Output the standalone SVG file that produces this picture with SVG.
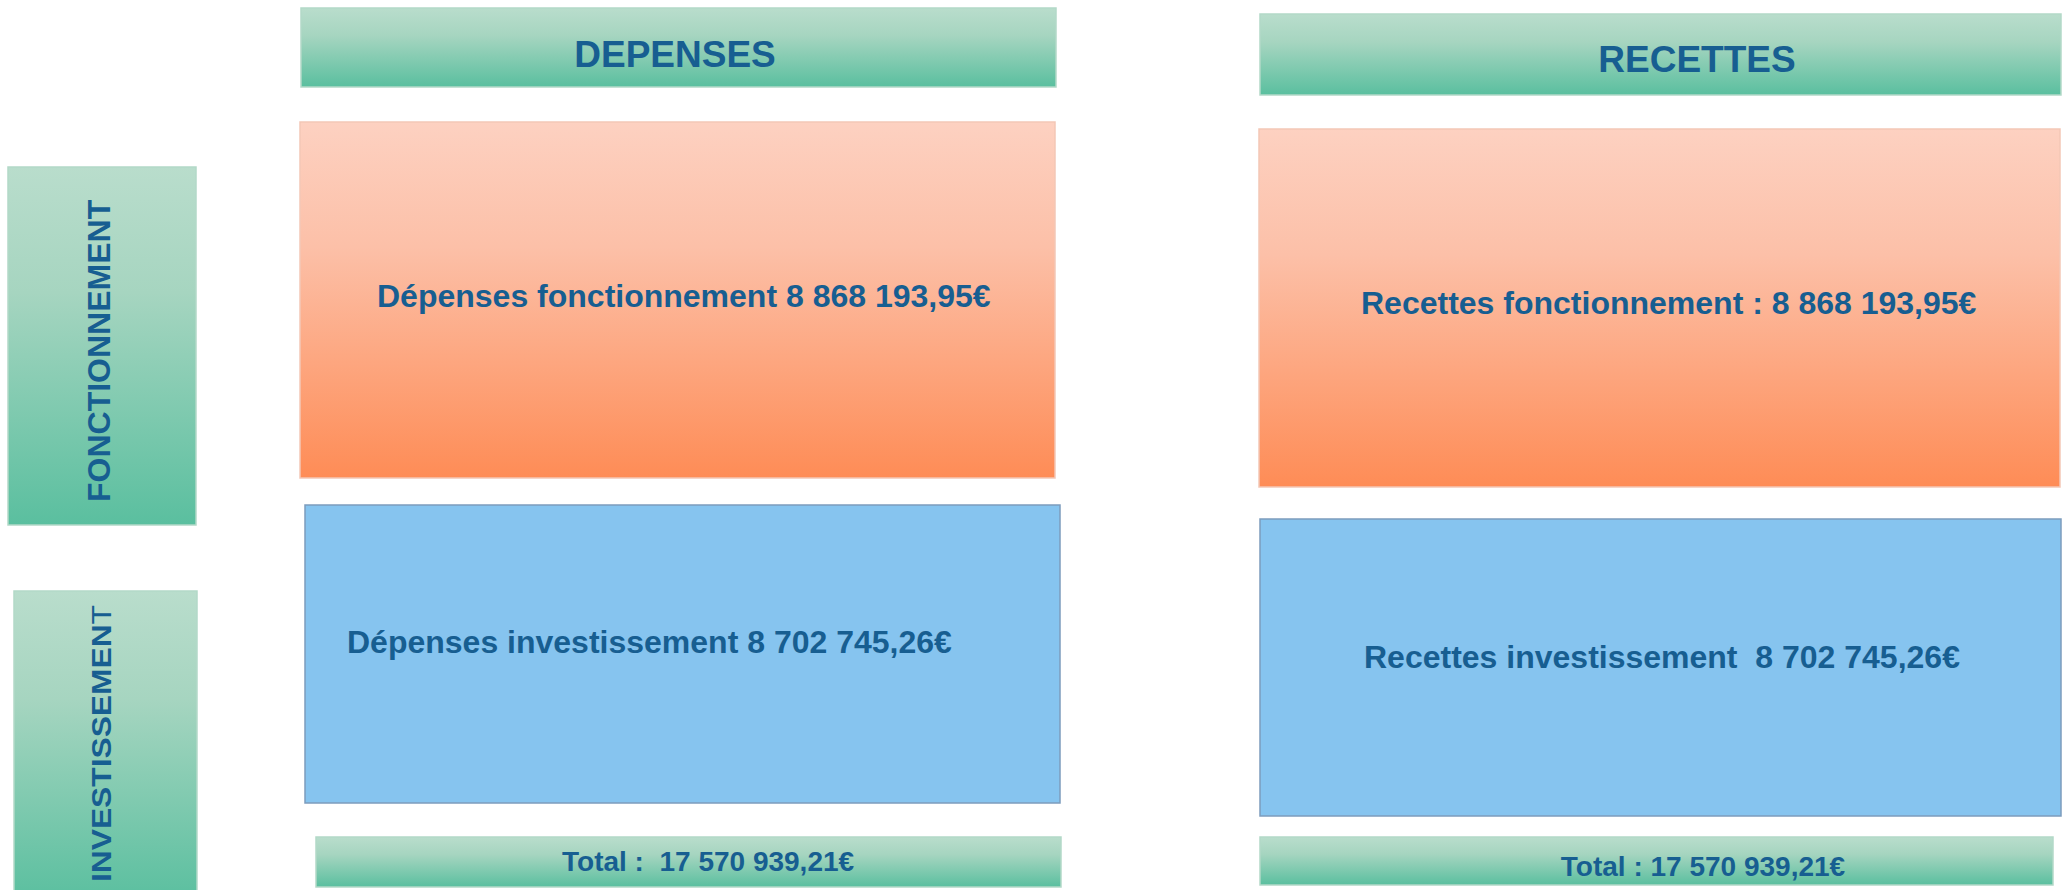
<svg xmlns="http://www.w3.org/2000/svg" width="2064" height="890" viewBox="0 0 2064 890">
<defs>
<linearGradient id="gGreen" x1="0" y1="0" x2="0" y2="1">
<stop offset="0" stop-color="#b9ddcc"/>
<stop offset="0.35" stop-color="#a6d5c0"/>
<stop offset="1" stop-color="#5abf9f"/>
</linearGradient>
<linearGradient id="gOrange" x1="0" y1="0" x2="0" y2="1">
<stop offset="0" stop-color="#fdd1c1"/>
<stop offset="0.35" stop-color="#fcc0a8"/>
<stop offset="1" stop-color="#fe8c56"/>
</linearGradient>
<style>
.green{fill:url(#gGreen);stroke:#b3d9c8;stroke-width:1.5}
.orange{fill:url(#gOrange);stroke:#f3c7b6;stroke-width:1.5}
.blue{fill:#86c4ef;stroke:#7c9cbd;stroke-width:1.5}
text{font-family:"Liberation Sans",Arial,sans-serif;font-weight:bold;fill:#175e91;white-space:pre}
.hdr{font-size:37px}
.box{font-size:32px}
.side{font-size:32px}
.tot{font-size:28px}
</style>
</defs>
<rect width="2064" height="890" fill="#ffffff"/>
<g id="hdr-depenses">
<rect class="green" x="301" y="8" width="755" height="79"/>
<text class="hdr" x="675" y="67" text-anchor="middle">DEPENSES</text>
</g>
<g id="hdr-recettes">
<rect class="green" x="1260" y="14" width="801" height="81"/>
<text class="hdr" x="1697" y="72" text-anchor="middle">RECETTES</text>
</g>
<g id="side-fonctionnement">
<rect class="green" x="8" y="167" width="188" height="358"/>
<text class="side" transform="translate(110,502) rotate(-90)" x="0" y="0">FONCTIONNEMENT</text>
</g>
<g id="side-investissement">
<rect class="green" x="14" y="591" width="183" height="310"/>
<text class="side" transform="translate(111,882) rotate(-90)" x="0" y="0" style="font-size:28px" textLength="277" lengthAdjust="spacingAndGlyphs">INVESTISSEMEN<tspan style="font-weight:normal">T</tspan></text>
</g>
<g id="dep-fonct">
<rect class="orange" x="300" y="122" width="755" height="356"/>
<text class="box" x="377" y="307">Dépenses fonctionnement 8 868 193,95€</text>
</g>
<g id="rec-fonct">
<rect class="orange" x="1259" y="129" width="801" height="358"/>
<text class="box" x="1361" y="314">Recettes fonctionnement : 8 868 193,95€</text>
</g>
<g id="dep-invest">
<rect class="blue" x="305" y="505" width="755" height="298"/>
<text class="box" x="347" y="653">Dépenses investissement 8 702 745,26€</text>
</g>
<g id="rec-invest">
<rect class="blue" x="1260" y="519" width="801" height="297"/>
<text class="box" x="1364" y="668">Recettes investissement  8 702 745,26€</text>
</g>
<g id="total-dep">
<rect class="green" x="316" y="837" width="745" height="50"/>
<text class="tot" x="562" y="871">Total :  17 570 939,21€</text>
</g>
<g id="total-rec">
<rect class="green" x="1260" y="837" width="793" height="48"/>
<text class="tot" x="1703" y="876" text-anchor="middle">Total : 17 570 939,21€</text>
</g>
<g id="connectors"></g>
</svg>
